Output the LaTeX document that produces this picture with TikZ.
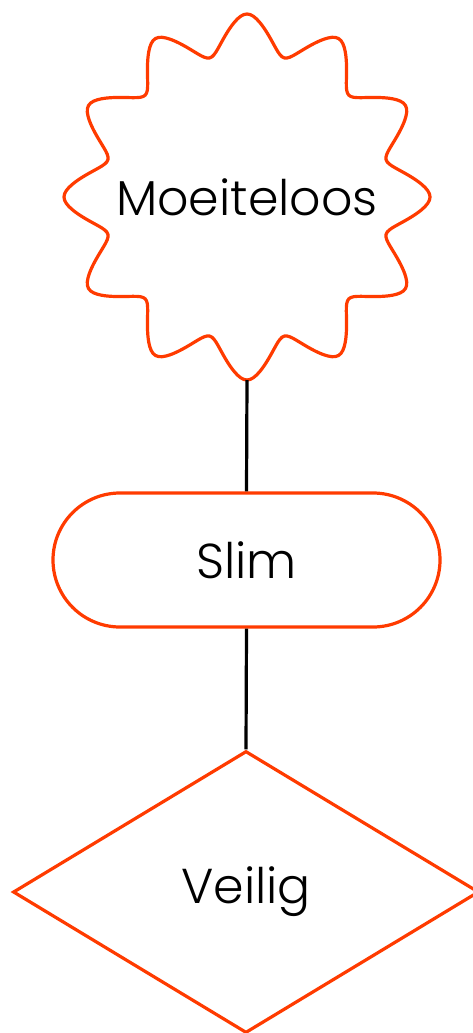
\documentclass[tikz,border=0pt]{standalone}
\usepackage{fontspec}
\setmainfont{Poppins}[UprightFont=* Light]
\usetikzlibrary{shapes.geometric}
\definecolor{accent}{RGB}{255,59,0}
\tikzset{
  shapeline/.style={draw=accent, line width=3.2pt},
  link/.style={draw=black, line width=3.2pt},
  label/.style={font=\fontsize{49}{58}\selectfont, text=black},
}
\begin{document}
\begin{tikzpicture}[x=1pt,y=-1pt]
\useasboundingbox (0,0) rectangle (473,1033);
\clip (0,0) rectangle (473,1033);
% starburst
\draw[shapeline, line join=round] plot[domain=0:360, samples=361, smooth cycle]
  ({247+(163.5+19.5*asin(0.75*cos(12*\x))/asin(0.75))*cos(\x)},
   {197-(163.5+19.5*asin(0.75*cos(12*\x))/asin(0.75))*sin(\x)});
\node[label] (moe) at (247,197) {Moeiteloos};
\coordinate (moeb) at (247,380);
% rounded box
\node[shapeline, rounded corners=67pt, minimum width=387pt, minimum height=134pt, label, inner sep=0pt] (slim) at (246.5,560) {Slim};
% diamond
\node[shapeline, diamond, minimum width=466pt, minimum height=282pt, label, inner sep=0pt] (veilig) at (246,892) {Veilig};
\draw[link] (moeb) -- (slim.north);
\draw[link] (slim.south) -- (veilig.north);
\end{tikzpicture}
\end{document}
